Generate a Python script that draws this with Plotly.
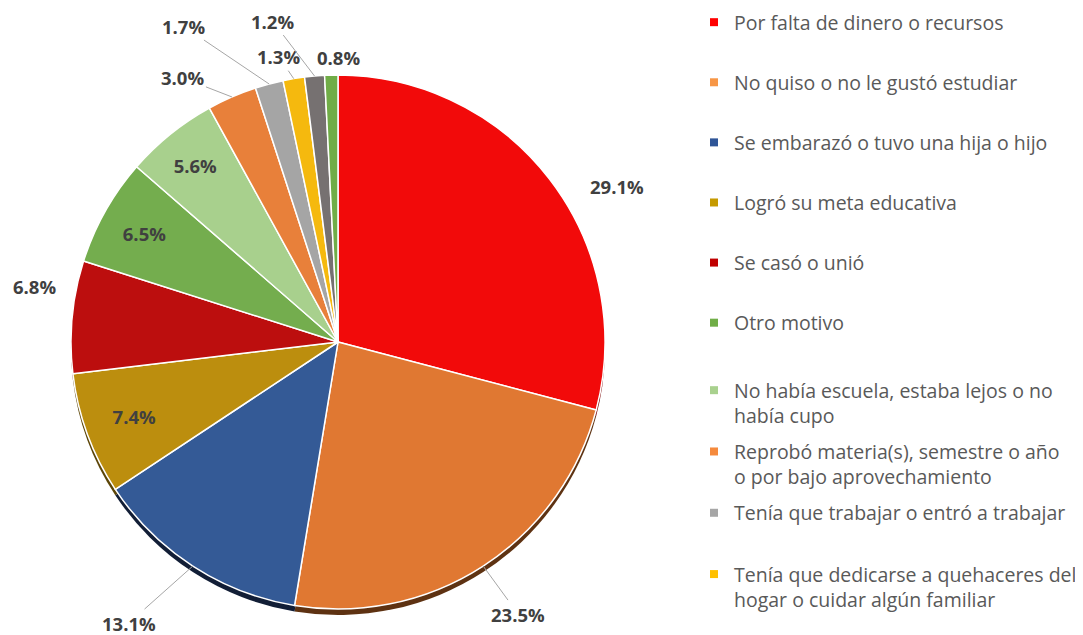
import math
import plotly.graph_objects as go

# reasons for leaving school (percent), clockwise from 12 o'clock
motivos = [
    "Por falta de dinero o recursos",
    "No quiso o no le gustó estudiar",
    "Se embarazó o tuvo una hija o hijo",
    "Logró su meta educativa",
    "Se casó o unió",
    "Otro motivo",
    "No había escuela, estaba lejos o no<br>había cupo",
    "Reprobó materia(s), semestre o año<br>o por bajo aprovechamiento",
    "Tenía que trabajar o entró a trabajar",
    "Tenía que dedicarse a quehaceres del<br>hogar o cuidar algún familiar",
    "Otra razón 1",
    "Otra razón 2",
]
porcentajes = [29.1, 23.5, 13.1, 7.4, 6.8, 6.5, 5.6, 3.0, 1.7, 1.3, 1.2, 0.8]
colores = ["#F20A0A", "#E07832", "#345A96", "#BC8E0E", "#BC0E0E", "#74AD4E",
           "#A8D08D", "#E8803A", "#A5A5A5", "#F5B90E", "#767171", "#70AD47"]
colores_leyenda = ["#FF0000", "#F79646", "#2F5597", "#C59A00", "#C00000", "#70AD47",
                   "#A9D18E", "#F58A3D", "#A6A6A6", "#FFC000"]
sombra = ["#7A0505", "#5E3212", "#121E36", "#5C4507", "#5C0707", "#3A5627",
          "#546846", "#5E3212", "#525252", "#7A5C07", "#3B3838", "#385623"]
dentro = [False, False, False, True, False, True, True, False, False, False, False, False]

# where each outside label sits relative to its slice edge (px) and whether it has a leader
desplaz = {0: (68, 7, False), 1: (35, 48, True), 2: (-64, 57, True), 4: (-38, -30, False),
           7: (-49, -19, True), 8: (-86, -58, True), 9: (-15, -22, True),
           10: (-42, -55, True), 11: (7, -18, False)}

# the page body adds an 8px margin, so the figure is made 8px smaller
OFF = 8
W, H = 1083 - OFF, 635 - OFF
FONT = "Open Sans"
CX, CY, R = 338, 342, 267   # pie centre / radius in screen px

def px_x(sx):
    return (sx - OFF) / W

def px_y(sy):
    return 1 - (sy - OFF) / H

x_dom = [px_x(CX - R), px_x(CX + R)]

fig = go.Figure()

# shadow under the pie
fig.add_trace(go.Pie(
    values=porcentajes, labels=[str(i) for i in range(len(porcentajes))],
    sort=False, direction="clockwise", rotation=0,
    marker=dict(colors=sombra, line=dict(width=0)),
    textinfo="none", hoverinfo="skip", showlegend=False,
    domain=dict(x=x_dom, y=[px_y(CY + R + 6), px_y(CY - R + 6)]),
))

fig.add_trace(go.Pie(
    values=porcentajes, labels=motivos,
    sort=False, direction="clockwise", rotation=0,
    marker=dict(colors=colores, line=dict(color="white", width=1.5)),
    text=[f"{v:.1f}%" if d else "" for v, d in zip(porcentajes, dentro)],
    textinfo="text", textposition=["inside" if d else "none" for d in dentro],
    insidetextorientation="horizontal",
    textfont=dict(family=FONT, size=18.5, color="#404040", weight="bold"),
    showlegend=False,
    domain=dict(x=x_dom, y=[px_y(CY + R), px_y(CY - R)]),
))

# outside labels with leader lines, anchored at the slice edge
acum = 0
for i, v in enumerate(porcentajes):
    ang = 2 * math.pi * (acum + v / 2) / 100
    acum += v
    if i not in desplaz:
        continue
    ax, ay, linea = desplaz[i]
    fig.add_annotation(
        x=px_x(CX + R * math.sin(ang)), y=px_y(CY - R * math.cos(ang)),
        xref="paper", yref="paper",
        ax=ax, ay=ay, text=f"{v:.1f}%", showarrow=True,
        arrowhead=0, arrowwidth=1, standoff=0,
        arrowcolor="#A6A6A6" if linea else "rgba(0,0,0,0)",
        font=dict(family=FONT, size=18.5, color="#404040", weight="bold"),
    )

# legend entries (only the first ten are visible in the original)
for i in range(10):
    nombre = motivos[i]
    if "<br>" not in nombre:
        nombre = nombre + "<br>\u00a0"
    fig.add_trace(go.Scatter(
        x=[None], y=[None], mode="markers", name=nombre,
        legendgroup=str(i), legend="legend" if i < 6 else "legend2",
        marker=dict(symbol="square", size=8, color=colores_leyenda[i]),
    ))

leyenda = dict(
    x=px_x(694), xanchor="left", yanchor="top",
    font=dict(family=FONT, size=19.5, color="#595959"),
    valign="top", itemclick=False, bgcolor="rgba(0,0,0,0)",
)

fig.update_layout(
    width=W, height=H,
    margin=dict(l=0, r=0, t=0, b=0, autoexpand=False),
    paper_bgcolor="white", plot_bgcolor="white",
    xaxis=dict(visible=False), yaxis=dict(visible=False),
    legend=dict(leyenda, y=px_y(22 - 19), tracegroupgap=6.4),
    legend2=dict(leyenda, y=px_y(390 - 19), tracegroupgap=7.6),
)
try:
    fig.update_layout(legend_maxheight=600, legend2_maxheight=600)
except ValueError:
    pass

fig.write_html("out.html")
